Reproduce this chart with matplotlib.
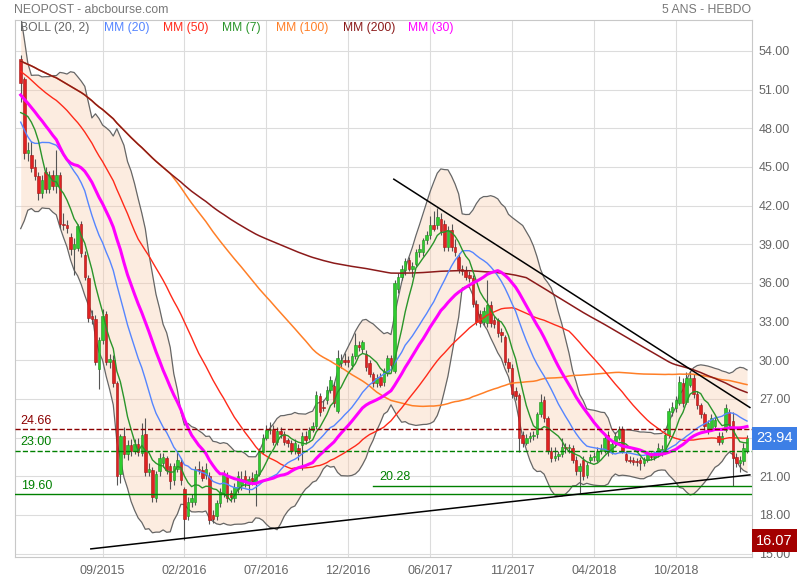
import numpy as np
import pandas as pd
import matplotlib
matplotlib.use("Agg")
import matplotlib.pyplot as plt

plt.rcParams['font.family'] = ['Liberation Sans', 'DejaVu Sans']

# weekly closes before the visible window (lead-in used by the moving averages)
pre_close = [57.5, 58.0, 58.5, 59.0, 59.0, 58.5, 58.0, 57.0,
             56.5, 57.0, 57.5, 57.0, 56.0, 55.5, 55.0, 54.5, 54.0, 53.5,
             53.0, 53.5, 54.0, 54.5, 55.0, 55.5, 56.0, 55.5, 55.0, 54.5,
             56.0, 55.5, 55.0, 54.5, 54.0, 54.0, 54.5, 55.0, 55.0, 54.5,
             58.0, 57.0, 53.0, 46.5, 43.0, 42.5, 43.5, 44.5, 45.5, 46.5,
             47.5, 49.0, 48.5,
             47.0, 47.5, 48.0, 48.5, 49.0, 53.0]

# visible weekly candles (week 0 = end of March 2015)
opens = [53.4, 51.8, 46.1, 45.9, 45.0, 44.3, 43.0, 44.6, 43.3, 44.4,
         43.5, 44.4, 40.6, 40.5, 39.6, 38.6, 38.7, 40.6, 38.2, 36.4,
         33.4, 33.2, 29.3, 31.6, 33.6, 29.9, 30.0, 28.2, 21.2, 24.1,
         22.7, 23.4, 23.0, 23.5, 22.8, 24.3, 21.3, 21.5, 19.3, 21.4,
         22.0, 22.4, 21.8, 20.7, 21.6, 22.1, 20.0, 17.9, 19.0, 19.0,
         21.6, 21.5, 21.1, 21.0, 18.0, 17.9, 18.9, 19.7, 21.1, 19.7,
         19.3, 20.0, 20.3, 21.0, 20.5, 20.9, 20.5, 21.2, 22.9, 24.0,
         24.6, 24.7, 23.7, 24.5, 24.3, 23.8, 23.6, 23.0, 23.2, 23.4,
         24.1, 24.0, 24.6, 24.9, 27.2, 26.4, 26.9, 27.7, 28.0, 26.1,
         29.8, 30.0, 30.0, 29.6, 30.3, 31.2, 30.9, 30.5, 29.8, 28.9,
         28.2, 28.7, 28.3, 29.1, 30.2, 29.2, 35.5, 36.5, 37.0, 37.8,
         37.1, 37.5, 38.4, 38.4, 39.3, 39.7, 40.5, 40.5, 41.0, 40.6,
         38.8, 40.1, 38.8, 38.0, 37.1, 37.0, 36.6, 36.4, 34.4, 33.6,
         33.0, 32.9, 34.3, 33.1, 33.1, 32.2, 31.8, 29.9, 29.4, 27.6,
         27.3, 24.2, 23.6, 24.0, 24.1, 24.3, 25.8, 26.9, 25.5, 23.0,
         22.4, 22.6, 22.7, 23.3, 23.2, 23.2, 22.3, 21.4, 22.3, 21.1,
         22.3, 22.5, 22.3, 23.0, 23.0, 24.2, 22.9, 23.6, 24.0, 24.7,
         22.7, 22.3, 22.3, 22.2, 22.3, 22.0, 22.3, 22.6, 22.5, 22.7,
         22.9, 22.9, 24.2, 26.0, 26.3, 26.7, 28.2, 26.8, 28.1, 28.6,
         27.4, 26.5, 25.8, 24.5, 24.7, 24.9, 24.1, 23.7, 24.6, 26.0,
         25.3, 22.5, 22.0, 22.2, 23.0]
highs = [53.7, 52.0, 46.9, 47.0, 45.6, 44.6, 44.4, 45.0, 44.7, 44.8,
         46.3, 44.6, 41.4, 40.9, 39.9, 39.5, 40.6, 40.8, 38.5, 36.6,
         33.9, 33.5, 31.8, 34.0, 33.8, 30.5, 30.4, 28.4, 24.3, 24.8,
         23.8, 23.9, 23.9, 24.0, 25.1, 25.5, 22.0, 21.7, 21.4, 22.8,
         22.8, 22.6, 22.0, 22.0, 23.0, 22.4, 20.2, 19.4, 19.6, 21.8,
         22.2, 21.8, 22.0, 21.3, 18.4, 19.2, 20.1, 21.5, 21.3, 19.9,
         20.5, 21.4, 21.4, 21.5, 21.0, 21.3, 21.5, 23.2, 24.3, 25.0,
         25.2, 25.0, 24.8, 24.8, 24.5, 24.0, 23.8, 23.9, 23.5, 24.4,
         24.5, 24.8, 25.2, 27.6, 27.5, 26.9, 28.0, 28.8, 28.3, 30.8,
         30.5, 30.6, 30.3, 30.6, 32.1, 31.5, 31.6, 30.8, 30.0, 29.1,
         28.9, 29.0, 29.4, 30.4, 30.4, 36.2, 36.8, 37.4, 37.9, 38.0,
         37.6, 38.6, 39.0, 39.5, 40.0, 41.2, 41.6, 41.8, 41.4, 40.9,
         40.4, 40.6, 39.4, 38.3, 37.4, 37.3, 36.9, 36.6, 34.7, 33.9,
         34.1, 36.2, 34.6, 33.4, 33.3, 32.5, 32.0, 30.2, 29.7, 27.9,
         27.5, 24.5, 24.3, 24.4, 24.5, 26.0, 27.4, 27.2, 25.7, 23.3,
         23.3, 23.0, 24.0, 23.6, 23.5, 23.4, 22.6, 22.0, 22.6, 22.1,
         22.7, 22.9, 23.3, 23.5, 24.2, 24.5, 23.8, 24.4, 24.9, 24.9,
         23.0, 22.6, 22.5, 22.4, 22.5, 22.5, 23.0, 22.9, 23.0, 23.6,
         23.4, 24.4, 26.3, 26.8, 27.2, 28.8, 28.6, 29.1, 29.2, 28.9,
         27.6, 26.7, 26.0, 25.4, 25.8, 25.7, 24.4, 24.4, 26.6, 26.2,
         26.0, 22.8, 22.6, 23.6, 24.2]
lows = [50.0, 45.6, 45.5, 44.6, 44.0, 42.4, 42.6, 43.0, 43.0, 43.2,
        43.0, 40.3, 40.1, 39.9, 38.2, 36.6, 38.5, 38.0, 36.2, 33.0,
        32.8, 29.6, 27.8, 31.3, 29.6, 29.4, 27.9, 20.3, 20.5, 22.4,
        22.3, 22.6, 22.7, 22.6, 22.6, 21.0, 21.0, 19.0, 19.0, 21.0,
        21.7, 21.2, 20.0, 20.3, 21.3, 20.3, 16.07, 17.6, 18.6, 18.8,
        21.2, 20.6, 20.8, 17.3, 17.4, 17.6, 18.6, 19.4, 19.0, 19.0,
        19.0, 19.7, 19.9, 20.2, 19.7, 20.3, 18.7, 21.0, 22.7, 23.8,
        24.3, 23.4, 23.4, 24.0, 23.4, 23.3, 22.7, 22.7, 22.3, 21.5,
        23.5, 23.8, 24.4, 24.7, 25.7, 26.1, 26.6, 27.5, 26.4, 25.9,
        29.4, 29.6, 29.5, 29.3, 30.1, 30.7, 30.6, 29.2, 28.7, 27.9,
        27.9, 27.9, 28.0, 28.8, 29.4, 29.0, 35.2, 36.2, 36.6, 36.9,
        36.5, 37.3, 38.0, 38.1, 39.0, 39.4, 40.0, 40.2, 39.7, 38.5,
        38.5, 38.5, 38.1, 36.8, 36.6, 36.2, 36.1, 34.1, 32.7, 32.6,
        32.7, 32.6, 32.6, 32.5, 31.8, 31.4, 29.6, 29.1, 27.1, 26.9,
        22.9, 23.3, 23.4, 23.7, 23.8, 24.0, 25.6, 25.2, 22.7, 22.1,
        22.2, 22.3, 22.5, 22.8, 22.8, 22.0, 21.1, 19.7, 20.7, 20.9,
        22.0, 22.2, 22.1, 22.7, 22.8, 22.6, 22.7, 23.3, 23.8, 22.8,
        22.1, 22.0, 21.9, 21.8, 21.5, 21.8, 22.1, 22.3, 22.3, 22.5,
        22.6, 22.7, 24.0, 25.7, 26.0, 26.5, 26.4, 26.6, 27.9, 27.1,
        26.2, 25.5, 24.6, 24.3, 24.5, 24.6, 23.4, 23.5, 24.4, 24.8,
        20.28, 21.7, 21.3, 21.9, 22.8]
closes = [51.5, 46.1, 46.3, 44.9, 44.3, 43.0, 44.0, 43.3, 44.4, 43.5,
          44.4, 40.6, 40.5, 40.3, 38.6, 39.0, 40.4, 38.3, 36.5, 33.3,
          33.2, 29.9, 31.6, 33.4, 29.9, 30.1, 28.2, 21.0, 24.1, 22.7,
          23.4, 23.0, 23.5, 22.9, 24.2, 21.3, 21.6, 19.4, 21.2, 22.4,
          22.5, 21.5, 20.6, 21.8, 22.3, 20.7, 17.7, 19.0, 19.3, 21.6,
          21.5, 20.9, 21.6, 17.6, 17.7, 18.9, 19.8, 21.1, 19.3, 19.4,
          20.2, 21.0, 20.8, 20.6, 20.8, 20.6, 21.2, 22.9, 24.0, 24.6,
          24.7, 23.7, 24.5, 24.3, 23.7, 23.6, 23.0, 23.6, 22.8, 24.1,
          23.8, 24.6, 24.9, 27.3, 26.0, 26.3, 27.7, 28.5, 26.7, 30.2,
          30.0, 29.9, 29.9, 30.3, 31.2, 31.0, 31.4, 29.5, 28.9, 28.2,
          28.6, 28.1, 29.2, 30.2, 29.6, 36.0, 36.5, 37.1, 37.7, 37.1,
          37.3, 38.4, 38.6, 39.3, 39.7, 40.5, 40.2, 41.1, 40.0, 38.8,
          40.1, 38.8, 38.4, 37.1, 36.9, 36.5, 36.4, 34.4, 33.0, 32.9,
          33.8, 34.3, 32.9, 32.8, 32.1, 32.0, 29.9, 29.4, 27.4, 27.2,
          24.0, 23.6, 24.0, 24.1, 24.2, 25.8, 26.8, 25.5, 23.0, 22.4,
          22.6, 22.7, 23.3, 23.2, 23.3, 22.3, 21.4, 21.8, 21.0, 21.9,
          22.5, 22.6, 23.0, 23.1, 24.0, 22.9, 23.5, 24.1, 24.7, 23.0,
          22.3, 22.2, 22.1, 22.1, 22.0, 22.3, 22.7, 22.5, 22.8, 23.2,
          23.1, 24.2, 26.1, 26.4, 26.9, 28.3, 26.7, 28.6, 28.6, 27.4,
          26.5, 25.8, 24.9, 25.1, 25.5, 25.4, 23.7, 24.1, 26.3, 25.0,
          22.4, 22.0, 22.3, 23.2, 23.94]

tick_pos = [23, 46, 69, 92, 115, 138, 161, 184]
tick_labels = ['09/2015', '02/2016', '07/2016', '12/2016',
               '06/2017', '11/2017', '04/2018', '10/2018']
price_ticks = [15, 18, 21, 24, 27, 30, 33, 36, 39, 42, 45, 48, 51, 54]

levels = [24.66, 23.00, 19.60]
level_colors = ['#8b0000', '#008000', '#008000']
level_styles = ['--', '--', '-']
level_2028 = 20.28
support_x, support_y = [19.7, 204.8], [15.37, 21.11]
resist_x, resist_y = [104.8, 204.8], [44.05, 26.34]

# ---- indicators
n_pre = len(pre_close)
allc = pd.Series(pre_close + closes)
def mm(n):
    return allc.rolling(n, min_periods=1).mean().values[n_pre:]
mid = allc.rolling(20).mean().values[n_pre:]
sd = allc.rolling(20).std(ddof=0).values[n_pre:]
up, lo = mid + 2 * sd, mid - 2 * sd

x = np.arange(len(closes))
o = np.array(opens); c = np.array(closes)
h = np.array(highs); l = np.array(lows)

fig = plt.figure(figsize=(8, 5.8), dpi=100)
ax = fig.add_axes([15/800, 1-557/580, 737/800, 537/580])
ax.set_xlim(-1.6, 205.4)
ax.set_ylim(14.74, 56.4)

ax.grid(color='#dcdcdc', lw=0.8)
ax.set_axisbelow(True)

ax.fill_between(x, lo, up, color='#f9c9a8', alpha=0.35, lw=0, zorder=1)
ax.plot(x, up, color='#666666', lw=0.9, zorder=2)
ax.plot(x, lo, color='#666666', lw=0.9, zorder=2)

# candles
upw = c >= o
ax.vlines(x, l, h, color='#555555', lw=0.8, zorder=3)
body = np.maximum(np.abs(c - o), 0.08)
ax.bar(x[upw], body[upw], bottom=np.minimum(o, c)[upw], width=0.7,
       color='#2ecc2e', edgecolor='#1f8f1f', lw=0.4, zorder=4)
ax.bar(x[~upw], body[~upw], bottom=np.minimum(o, c)[~upw], width=0.7,
       color='#e02222', edgecolor='#a01414', lw=0.4, zorder=4)

# moving averages (MM200 drawn over MM100 where they coincide)
ax.plot(x, mm(100), color='#ff7f27', lw=1.1, zorder=5)
ax.plot(x, mm(200), color='#8b1a1a', lw=1.1, zorder=5)
ax.plot(x, mm(50), color='#ff2a1a', lw=1.0, zorder=5)
ax.plot(x, mm(20), color='#5585ff', lw=1.0, zorder=5)
ax.plot(x, mm(7), color='#2a952a', lw=1.0, zorder=6)
ax.plot(x, mm(30), color='#ff00ff', lw=2.2, zorder=6)

# levels and trend lines
for v, col, ls in zip(levels, level_colors, level_styles):
    ax.axhline(v, color=col, ls=ls, lw=1.0, zorder=6)
    ax.text(0.0, v + 0.2, f'{v:.2f}', color=col, fontsize=9, va='bottom', zorder=7)
ax.plot([99, 205.4], [level_2028, level_2028], color='#008000', lw=1.0, zorder=6)
ax.text(100.6, level_2028 + 0.2, '20.28', color='#008000', fontsize=9, va='bottom', zorder=7)
ax.plot(support_x, support_y, color='black', lw=1.1, zorder=7)
ax.plot(resist_x, resist_y, color='black', lw=1.1, zorder=7)

# axes styling (24.00 sits under the last-price tag)
ax.set_xticks(tick_pos)
ax.set_xticklabels(tick_labels)
ax.set_yticks(price_ticks)
ax.set_yticklabels(['' if v == 24 else f'{v:.2f}' for v in price_ticks])
ax.yaxis.tick_right()
ax.tick_params(length=0, labelsize=9, colors='#666666')
ax.tick_params(axis='y', pad=5)
ax.tick_params(axis='x', pad=6)
for s in ax.spines.values():
    s.set_color('#c8c8c8')

# price tags
ax.annotate(f'{closes[-1]:.2f}', xy=(1.0, closes[-1]), xycoords=('axes fraction', 'data'),
            xytext=(3, 0), textcoords='offset points', va='center', ha='left',
            fontsize=10.5, color='white', annotation_clip=False, zorder=20,
            bbox=dict(boxstyle='square,pad=0.3', fc='#3d7fe6', ec='none'))
ax.annotate(f'{min(lows):.2f}', xy=(1.0, 16.0), xycoords=('axes fraction', 'data'),
            xytext=(3, 0), textcoords='offset points', va='center', ha='left',
            fontsize=10.5, color='white', annotation_clip=False, zorder=20,
            bbox=dict(boxstyle='square,pad=0.3', fc='#a30000', ec='none'))

# header and legend
fig.text(14/800, 1-10/580, 'NEOPOST - abcbourse.com', fontsize=8.8, color='#777777', va='center')
fig.text(751/800, 1-10/580, '5 ANS - HEBDO', fontsize=8.8, color='#777777', va='center', ha='right')
legend = [('BOLL (20, 2)', '#666666', 20), ('MM (20)', '#5585ff', 104), ('MM (50)', '#ff2a1a', 163),
          ('MM (7)', '#2a952a', 222), ('MM (100)', '#ff7f27', 276), ('MM (200)', '#8b1a1a', 343),
          ('MM (30)', '#ff00ff', 408)]
for txt, col, px in legend:
    fig.text(px/800, 1-28/580, txt, fontsize=8.7, color=col, va='center')

fig.savefig('out.png', dpi=100)
